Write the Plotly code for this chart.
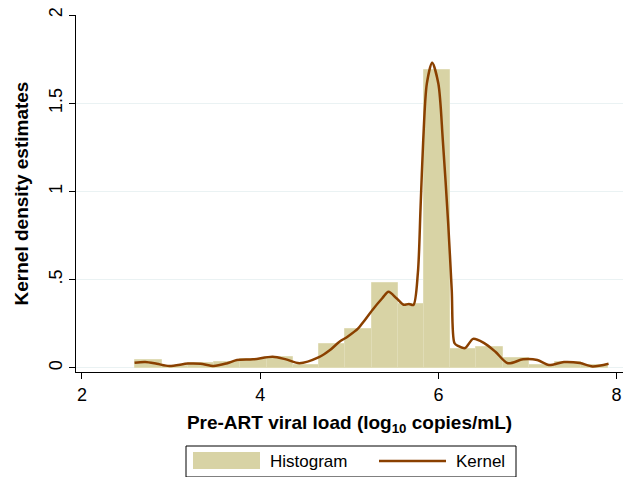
import plotly.graph_objects as go

# Histogram: 18 bins from 2.6 to 7.9
bin_start = 2.6
bin_width = 0.2944
hist_heights = [0.045, 0.01, 0.027, 0.035, 0.05, 0.064, 0.017, 0.136, 0.221,
                0.48, 0.363, 1.688, 0.107, 0.117, 0.055, 0.015, 0.033, 0.017]

# Kernel density curve
kern_x = [2.59, 2.71, 2.84, 2.98, 3.19, 3.33, 3.48, 3.63, 3.74, 3.92, 4.14,
          4.29, 4.44, 4.66, 4.78, 4.89, 4.98, 5.10, 5.16, 5.26, 5.37, 5.44,
          5.53, 5.61, 5.67, 5.72, 5.77, 5.80, 5.83, 5.87, 5.93, 6.00, 6.05,
          6.11, 6.15, 6.18, 6.22, 6.30, 6.39, 6.51, 6.64, 6.78, 6.95, 7.11,
          7.24, 7.41, 7.59, 7.73, 7.91]
kern_y = [0.030, 0.034, 0.024, 0.011, 0.025, 0.024, 0.011, 0.027, 0.045,
          0.049, 0.064, 0.049, 0.027, 0.061, 0.10, 0.149, 0.177, 0.224,
          0.262, 0.329, 0.395, 0.432, 0.395, 0.358, 0.363, 0.357, 0.54,
          0.91, 1.29, 1.61, 1.73, 1.61, 1.29, 0.82, 0.44, 0.142, 0.125,
          0.113, 0.165, 0.142, 0.092, 0.027, 0.049, 0.045, 0.017, 0.034,
          0.028, 0.009, 0.024]

x_tickvals = [2, 4, 6, 8]
y_tickvals = [0, 0.5, 1, 1.5, 2]
y_ticktext = ["0", ".5", "1", "1.5", "2"]

hist_color = "rgb(216,211,165)"
kern_color = "rgb(138,64,0)"

centers = [bin_start + bin_width * (i + 0.5) for i in range(len(hist_heights))]

fig = go.Figure()
fig.add_trace(go.Bar(x=centers, y=hist_heights, width=bin_width,
                     marker=dict(color=hist_color,
                                 line=dict(color="rgb(224,220,182)", width=1)),
                     name="Histogram", showlegend=False))
fig.add_trace(go.Scatter(x=kern_x, y=kern_y, mode="lines",
                         line=dict(color=kern_color, width=2.5, shape="spline",
                                   smoothing=0.8),
                         name="Kernel", showlegend=False))

font = "Liberation Sans, Arial, sans-serif"
fig.update_layout(
    width=623, height=477,
    margin=dict(l=76, r=0, t=15, b=105),
    paper_bgcolor="white", plot_bgcolor="white",
    font=dict(family=font, size=17, color="black"),
    bargap=0,
    xaxis=dict(range=[1.933, 8.072], tickvals=x_tickvals,
               ticks="outside", ticklen=6, tickcolor="black",
               tickfont=dict(size=18),
               showline=True, linecolor="black", linewidth=1,
               showgrid=False, zeroline=False,
               title=dict(text="<b>Pre-ART viral load (log<sub>10</sub> copies/mL)</b>",
                          font=dict(size=19), standoff=12)),
    yaxis=dict(range=[-0.0227, 2.0], tickvals=y_tickvals, ticktext=y_ticktext,
               tickangle=-90, tickfont=dict(size=18),
               ticks="outside", ticklen=6, tickcolor="black",
               showline=True, linecolor="black", linewidth=1,
               showgrid=True, gridcolor="rgb(234,242,243)", gridwidth=1,
               zeroline=False,
               title=dict(text="<b>Kernel density estimates</b>",
                          font=dict(size=19), standoff=12)),
)

# Custom legend box
def px2paper_x(px):
    return (px - 76) / (623 - 76)

def py2paper_y(py):
    return (372 - py) / (372 - 15)

fig.add_shape(type="rect", xref="paper", yref="paper",
              x0=px2paper_x(186), x1=px2paper_x(516),
              y0=py2paper_y(477), y1=py2paper_y(446),
              line=dict(color="black", width=1), fillcolor="white")
fig.add_shape(type="rect", xref="paper", yref="paper",
              x0=px2paper_x(193), x1=px2paper_x(260),
              y0=py2paper_y(469), y1=py2paper_y(452),
              line=dict(width=0), fillcolor=hist_color)
fig.add_shape(type="line", xref="paper", yref="paper",
              x0=px2paper_x(379), x1=px2paper_x(446),
              y0=py2paper_y(461), y1=py2paper_y(461),
              line=dict(color=kern_color, width=2.5))
fig.add_annotation(xref="paper", yref="paper", x=px2paper_x(268),
                   y=py2paper_y(461), text="Histogram", showarrow=False,
                   xanchor="left", yanchor="middle", font=dict(size=17))
fig.add_annotation(xref="paper", yref="paper", x=px2paper_x(454),
                   y=py2paper_y(461), text="Kernel", showarrow=False,
                   xanchor="left", yanchor="middle", font=dict(size=17))

fig.write_html("out.html")
